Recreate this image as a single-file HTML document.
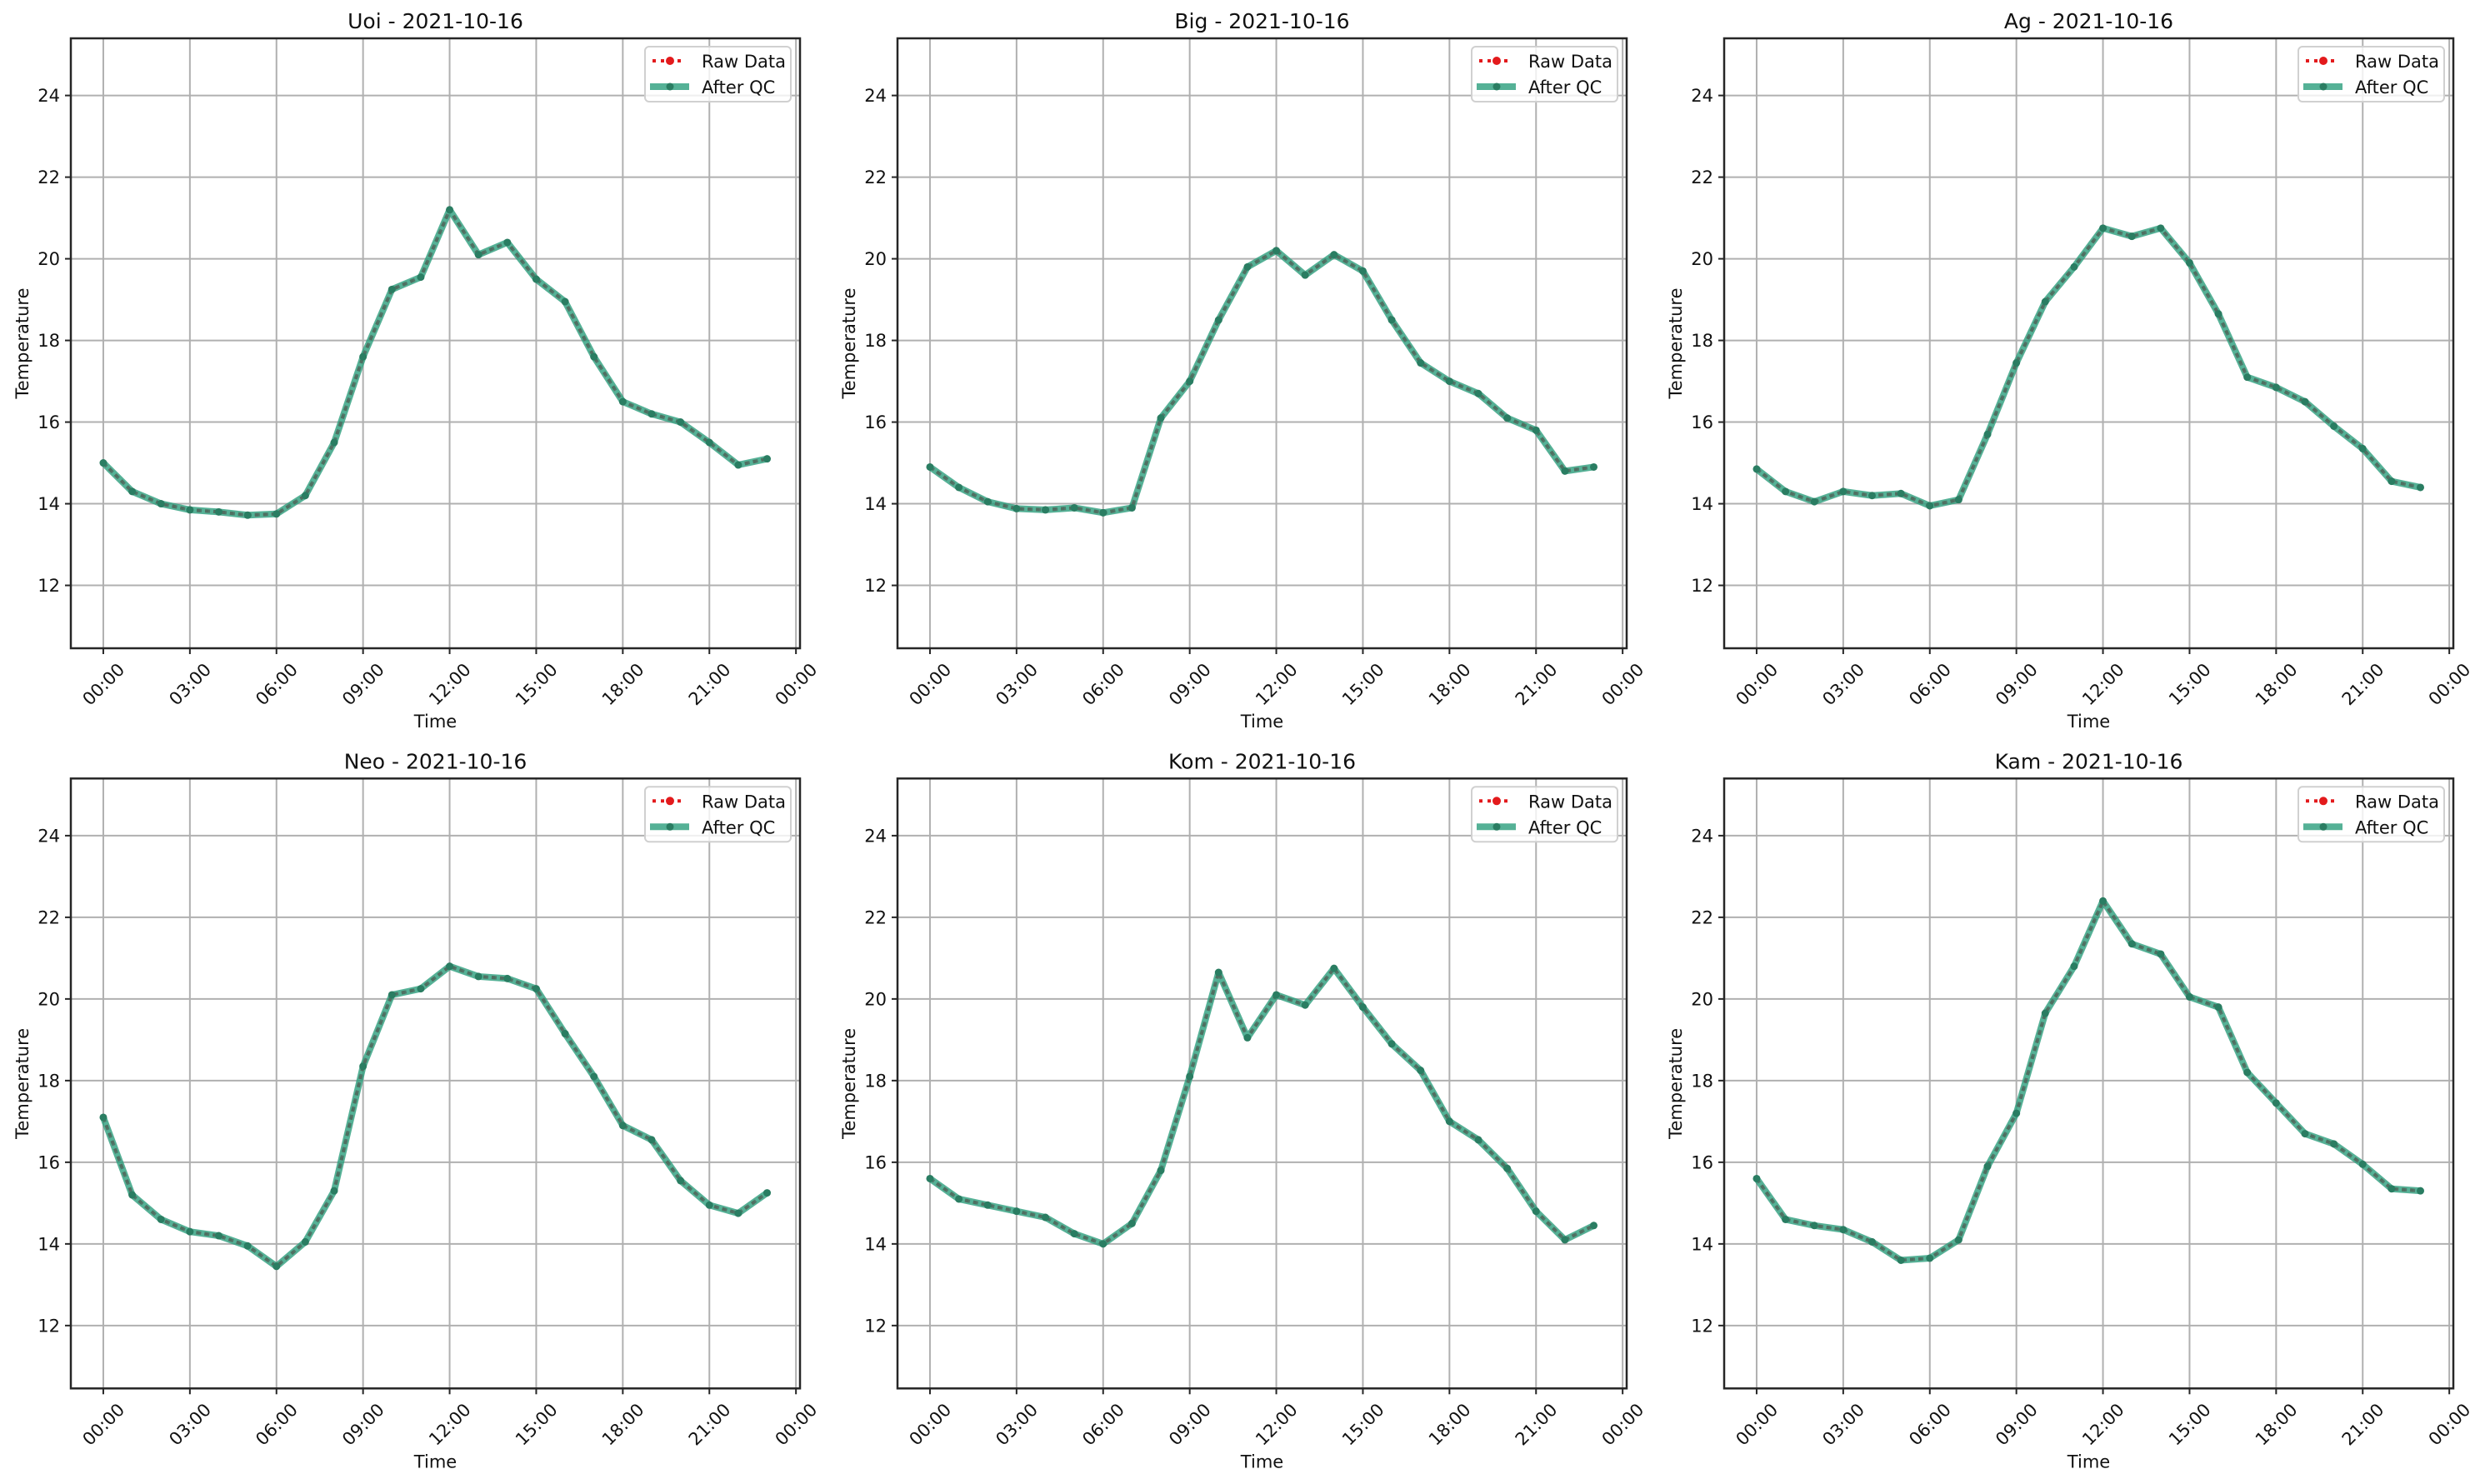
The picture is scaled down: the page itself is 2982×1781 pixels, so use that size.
<!DOCTYPE html>
<html><head><meta charset="utf-8"><style>
html,body{margin:0;padding:0;background:#fff;}
svg{display:block;font-family:"DejaVu Sans","Liberation Sans",sans-serif;}
</style></head><body>
<svg id="fig" width="2982" height="1781" viewBox="0 0 2982 1781" xmlns="http://www.w3.org/2000/svg"></svg>
<script>
const stations = ["Uoi","Big","Ag","Neo","Kom","Kam"];
const dateLabel = "2021-10-16";
const hours = [0,1,2,3,4,5,6,7,8,9,10,11,12,13,14,15,16,17,18,19,20,21,22,23];
const tempUoi = [15.0,14.3,14.0,13.85,13.8,13.72,13.75,14.2,15.5,17.6,19.25,19.55,21.2,20.1,20.4,19.5,18.95,17.6,16.5,16.2,16.0,15.5,14.95,15.1];
const tempBig = [14.9,14.4,14.05,13.88,13.85,13.9,13.78,13.9,16.1,17.0,18.5,19.8,20.2,19.6,20.1,19.7,18.5,17.45,17.0,16.7,16.1,15.8,14.8,14.9];
const tempAg = [14.85,14.3,14.05,14.3,14.2,14.25,13.95,14.1,15.7,17.45,18.95,19.8,20.75,20.55,20.75,19.9,18.65,17.1,16.85,16.5,15.9,15.35,14.55,14.4];
const tempNeo = [17.1,15.2,14.6,14.3,14.2,13.95,13.45,14.05,15.3,18.35,20.1,20.25,20.8,20.55,20.5,20.25,19.15,18.1,16.9,16.55,15.55,14.95,14.75,15.25];
const tempKom = [15.6,15.1,14.95,14.8,14.65,14.25,14.0,14.5,15.8,18.1,20.65,19.05,20.1,19.85,20.75,19.8,18.9,18.25,17.0,16.55,15.85,14.8,14.1,14.45];
const tempKam = [15.6,14.6,14.45,14.35,14.05,13.6,13.65,14.1,15.9,17.2,19.65,20.8,22.4,21.35,21.1,20.05,19.8,18.2,17.45,16.7,16.45,15.95,15.35,15.3];
const seriesAll = [tempUoi,tempBig,tempAg,tempNeo,tempKom,tempKam];
const yTicks = [12,14,16,18,20,22,24];
const xTickHours = [0,3,6,9,12,15,18,21,24];
const xTickLabels = ["00:00","03:00","06:00","09:00","12:00","15:00","18:00","21:00","00:00"];

const NS="http://www.w3.org/2000/svg";
const svg=document.getElementById('fig');
function mk(tag,attrs,parent){const e=document.createElementNS(NS,tag);for(const k in attrs)e.setAttribute(k,attrs[k]);(parent||svg).appendChild(e);return e;}

const W=875, H=732, XMIN=-1.125, XMAX=24.14, YMIN=10.46, YMAX=25.4;
const lefts=[85,1077,2069], tops=[46,934.3];
const FS=21;

seriesAll.forEach((vals,i)=>{
  const L=lefts[i%3], T=tops[Math.floor(i/3)];
  const sx=h=>L+(h-XMIN)/(XMAX-XMIN)*W;
  const sy=v=>T+H-(v-YMIN)/(YMAX-YMIN)*H;
  const g=mk('g',{});
  
  
  xTickHours.forEach(h=>{const l=mk('line',{x1:sx(h),x2:sx(h),y1:T,y2:T+H,stroke:'#b0b0b0','stroke-width':2},g);
    });
  yTicks.forEach(v=>{const l=mk('line',{x1:L,x2:L+W,y1:sy(v),y2:sy(v),stroke:'#b0b0b0','stroke-width':2},g);
    });
  const pts=hours.map((h,k)=>sx(h)+','+sy(vals[k])).join(' ');
  const raw=mk('polyline',{points:pts,fill:'none',stroke:'#e31a1c','stroke-width':4,'stroke-dasharray':'4 6'},g);
  
  const qc=mk('polyline',{points:pts,fill:'none',stroke:'#2a9d7c','stroke-opacity':0.8,'stroke-width':8,'stroke-linejoin':'round'},g);
  
  const dot=mk('polyline',{points:pts,fill:'none',stroke:'#4f6a5f','stroke-opacity':0.8,'stroke-width':4,'stroke-dasharray':'6 4'},g);
  
  hours.forEach((h,k)=>{const c=mk('circle',{cx:sx(h),cy:sy(vals[k]),r:4.5,fill:'#2a7d62'},g);
    });
  const f=mk('rect',{x:L,y:T,width:W,height:H,fill:'none',stroke:'#262626','stroke-width':2.5},g);
  
  yTicks.forEach(v=>{mk('line',{x1:L-7,x2:L,y1:sy(v),y2:sy(v),stroke:'#262626','stroke-width':2},g);
    const t=mk('text',{x:L-13,y:sy(v)+7.5,'text-anchor':'end','font-size':FS,fill:'#111'},g);t.textContent=v;
    });
  xTickHours.forEach((h,k)=>{mk('line',{x1:sx(h),x2:sx(h),y1:T+H,y2:T+H+7,stroke:'#262626','stroke-width':2},g);
    const cx=sx(h), cy=T+H+43;
    const t=mk('text',{x:cx,y:cy+7.5,'text-anchor':'middle','font-size':FS,fill:'#111',transform:'rotate(-45 '+cx+' '+cy+')'},g);
    t.textContent=xTickLabels[k];
    });
  const title=mk('text',{x:L+W/2,y:T-12,'text-anchor':'middle','font-size':25,fill:'#111'},g);
  title.textContent=stations[i]+' - '+dateLabel;
  
  const xl=mk('text',{x:L+W/2,y:T+H+95,'text-anchor':'middle','font-size':FS,fill:'#111'},g);
  xl.textContent='Time';
  const yx=L-58, yy=T+H/2;
  const yl=mk('text',{x:yx,y:yy+7,'text-anchor':'middle','font-size':FS,fill:'#111',transform:'rotate(-90 '+yx+' '+yy+')'},g);
  yl.textContent='Temperature';
  const lg=mk('g',{},g);
  
  const bx=L+W-186, by=T+10;
  mk('rect',{x:bx,y:by,width:175,height:66,rx:5,fill:'#fff','fill-opacity':0.8,stroke:'#d0d0d0','stroke-width':2},lg);
  mk('line',{x1:bx+9,x2:bx+46,y1:by+17,y2:by+17,stroke:'#e31a1c','stroke-width':4,'stroke-dasharray':'4 6'},lg);
  mk('circle',{cx:bx+30,cy:by+17,r:5,fill:'#e31a1c'},lg);
  const t1=mk('text',{x:bx+68,y:by+25,'font-size':FS,fill:'#111'},lg);t1.textContent='Raw Data';
  
  mk('line',{x1:bx+6,x2:bx+53,y1:by+48,y2:by+48,stroke:'#2a9d7c','stroke-opacity':0.8,'stroke-width':8},lg);
  mk('circle',{cx:bx+30,cy:by+48,r:4.5,fill:'#2a7d62'},lg);
  const t2=mk('text',{x:bx+68,y:by+56,'font-size':FS,fill:'#111'},lg);t2.textContent='After QC';
  
});
</script>
</body></html>
